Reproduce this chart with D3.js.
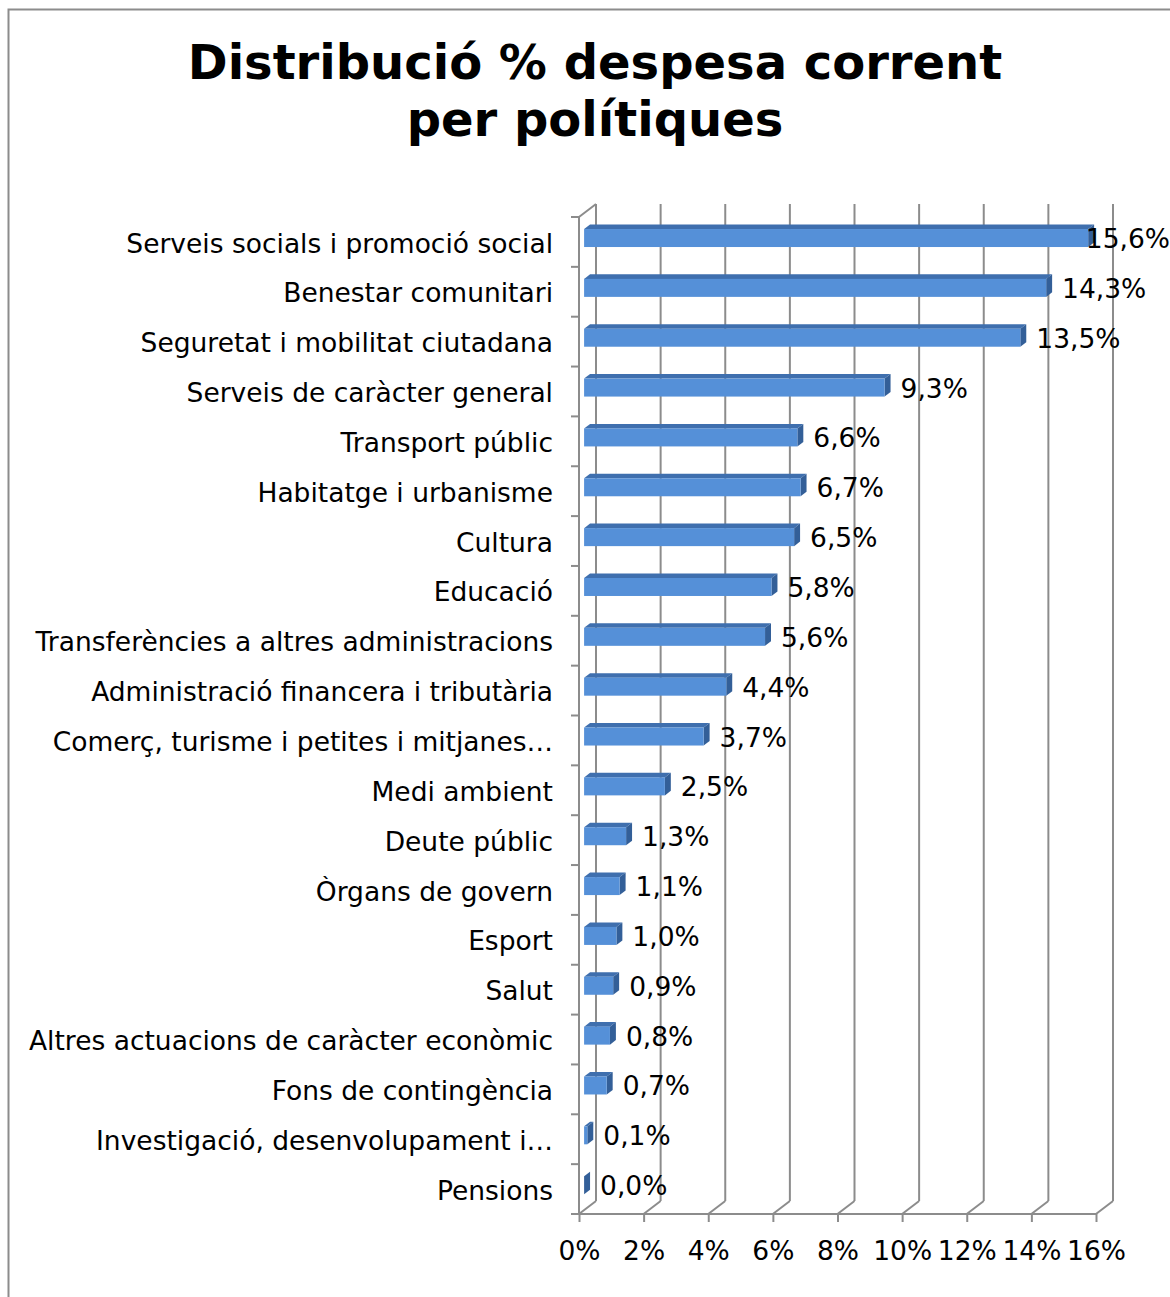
<!DOCTYPE html>
<html>
<head>
<meta charset="utf-8">
<script src="https://cdn.jsdelivr.net/npm/d3@7"></script>
<style>
body { margin: 0; background: white; }
text { font-family: "DejaVu Sans", Verdana, sans-serif; }
</style>
</head>
<body>
<div id="display"></div>
<script>
// data
const categories = [
    "Serveis socials i promoció social",
    "Benestar comunitari",
    "Seguretat i mobilitat ciutadana",
    "Serveis de caràcter general",
    "Transport públic",
    "Habitatge i urbanisme",
    "Cultura",
    "Educació",
    "Transferències a altres administracions",
    "Administració financera i tributària",
    "Comerç, turisme i petites i mitjanes…",
    "Medi ambient",
    "Deute públic",
    "Òrgans de govern",
    "Esport",
    "Salut",
    "Altres actuacions de caràcter econòmic",
    "Fons de contingència",
    "Investigació, desenvolupament i…",
    "Pensions"
];
const values = [15.6, 14.3, 13.5, 9.3, 6.6, 6.7, 6.5, 5.8, 5.6, 4.4, 3.7, 2.5, 1.3, 1.1, 1.0, 0.9, 0.8, 0.7, 0.1, 0.0];
const xTicks = [0, 2, 4, 6, 8, 10, 12, 14, 16];
const titleLines = ["Distribució % despesa corrent", "per polítiques"];

const W = 1170, H = 1297;
const fontSize = 26.5;
const svg = d3.select('#display')
    .append('svg')
    .attr('width', W)
    .attr('height', H);

// outer frame
svg.append('rect')
    .attr('x', 8.5).attr('y', 9.5)
    .attr('width', W).attr('height', H)
    .attr('fill', 'white')
    .attr('stroke', '#8c8c8c')
    .attr('stroke-width', 2);

// title
svg.append('text')
    .attr('x', 595).attr('y', 79)
    .attr('text-anchor', 'middle')
    .attr('font-weight', 'bold')
    .attr('font-size', '48px')
    .selectAll('tspan')
    .data(titleLines)
    .join('tspan')
    .attr('x', 595)
    .attr('dy', (d, i) => i === 0 ? 0 : 57)
    .text(d => d);

// plot geometry
const pLeft = 579, pRight = 1096, pTop = 217, pBottom = 1214;
const depthX = 17, depthY = -13;

const x = d3.scaleLinear().domain([0, 16]).range([pLeft, pRight]);
const y = d3.scaleBand().domain(categories).range([pTop, pBottom]);

const gridColor = '#8c8c8c';
const grid = svg.append('g').attr('stroke', gridColor).attr('stroke-width', 2).attr('fill', 'none');

// back wall gridlines
xTicks.forEach(t => {
    grid.append('line')
        .attr('x1', x(t) + depthX).attr('y1', pTop + depthY)
        .attr('x2', x(t) + depthX).attr('y2', pBottom + depthY);
    // floor diagonals
    grid.append('line')
        .attr('x1', x(t)).attr('y1', pBottom)
        .attr('x2', x(t) + depthX).attr('y2', pBottom + depthY);
});
// left wall
grid.append('line')
    .attr('x1', pLeft).attr('y1', pTop)
    .attr('x2', pLeft).attr('y2', pBottom);
grid.append('line')
    .attr('x1', pLeft).attr('y1', pTop)
    .attr('x2', pLeft + depthX).attr('y2', pTop + depthY);
// floor front edge
grid.append('line')
    .attr('x1', pLeft).attr('y1', pBottom)
    .attr('x2', pRight).attr('y2', pBottom);

// category boundary ticks
d3.range(categories.length + 1).forEach(i => {
    const yy = pTop + i * y.step();
    grid.append('line')
        .attr('x1', pLeft - 8).attr('y1', yy)
        .attr('x2', pLeft).attr('y2', yy);
});

// x axis
const xAxis = svg.append('g')
    .attr('transform', `translate(0,${pBottom})`)
    .call(d3.axisBottom(x).tickValues(xTicks).tickFormat(d => d + '%').tickSize(8).tickPadding(19));
xAxis.select('.domain').remove();
xAxis.selectAll('line').attr('stroke', gridColor).attr('stroke-width', 2);
xAxis.selectAll('text')
    .attr('font-size', fontSize + 'px')
    .attr('fill', 'black')
    .style('font-family', '"DejaVu Sans", Verdana, sans-serif');

// y axis labels
const yAxis = svg.append('g')
    .attr('transform', `translate(${pLeft - 26},0)`)
    .call(d3.axisLeft(y).tickSize(0).tickPadding(0));
yAxis.select('.domain').remove();
yAxis.selectAll('text')
    .attr('font-size', fontSize + 'px')
    .attr('fill', 'black')
    .attr('dy', '0.4em')
    .style('font-family', '"DejaVu Sans", Verdana, sans-serif');

// bars (3D)
const fOff = 0.3, bOff = 0.65;
const barH = 18;
const bars = svg.append('g');
categories.forEach((c, i) => {
    const v = values[i];
    const cy = y(c) + y.bandwidth() / 2;
    const x0 = x(0) + depthX * fOff, x1 = x(v) + depthX * fOff;
    const yTop = cy + depthY * fOff - barH / 2;
    const yBot = yTop + barH;
    const ddx = depthX * (bOff - fOff), ddy = depthY * (bOff - fOff);
    // top face
    bars.append('path')
        .attr('d', `M${x0},${yTop} L${x0 + ddx},${yTop + ddy} L${x1 + ddx},${yTop + ddy} L${x1},${yTop} Z`)
        .attr('fill', '#3f6fae');
    // side face
    bars.append('path')
        .attr('d', `M${x1},${yTop} L${x1 + ddx},${yTop + ddy} L${x1 + ddx},${yBot + ddy} L${x1},${yBot} Z`)
        .attr('fill', '#335f98');
    // front face
    if (v > 0) {
        bars.append('rect')
            .attr('x', x0).attr('y', yTop)
            .attr('width', x1 - x0).attr('height', barH)
            .attr('fill', '#5590d8');
    }
    // value label
    const lx = x1 + ddx + 10;
    const lbl = bars.append('text')
        .attr('x', lx)
        .attr('y', yTop + barH / 2 + 10)
        .attr('font-size', fontSize + 'px')
        .attr('fill', 'black')
        .text(v.toFixed(1).replace('.', ',') + '%');
    const w = lbl.node().getComputedTextLength();
    if (lx + w > W) lbl.attr('x', W - w);
});
</script>
</body>
</html>
